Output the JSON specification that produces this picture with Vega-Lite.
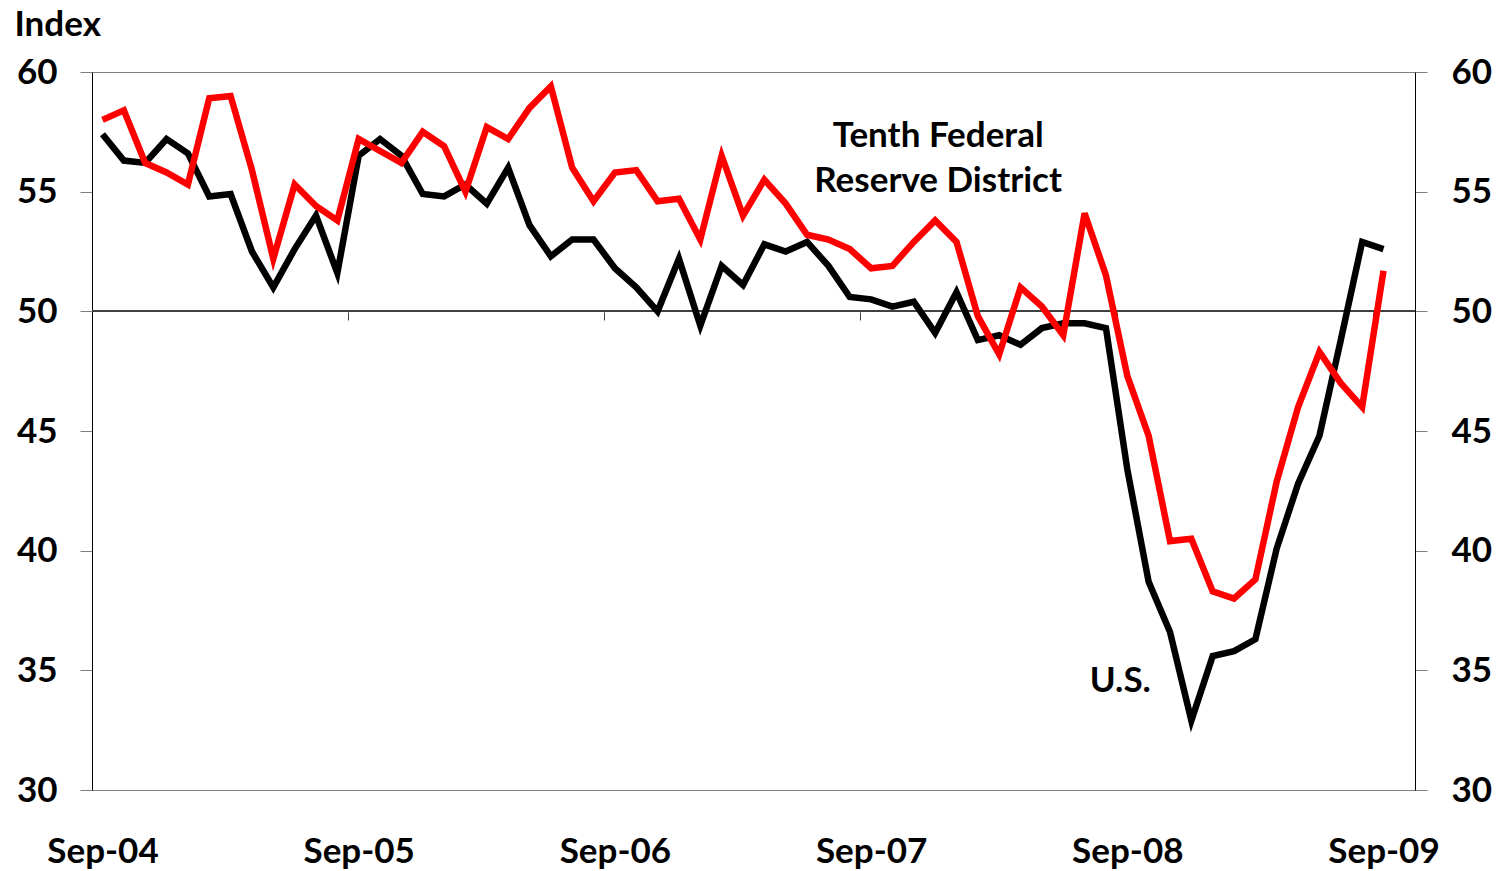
{
  "$schema": "https://vega.github.io/schema/vega-lite/v6.json",
  "width": 1323,
  "height": 718,
  "autosize": {"type": "none"},
  "padding": {"left": 92, "top": 72, "right": 82, "bottom": 81},
  "background": "white",
  "config": {
    "view": {"stroke": "#7f7f7f", "strokeWidth": 1},
    "font": "Lato",
    "text": {"font": "Lato"}
  },
  "datasets": {
    "index": [
      {"month": "Sep-04", "US": 57.4, "Tenth": 58.0},
      {"month": "Oct-04", "US": 56.3, "Tenth": 58.4},
      {"month": "Nov-04", "US": 56.2, "Tenth": 56.2},
      {"month": "Dec-04", "US": 57.2, "Tenth": 55.8},
      {"month": "Jan-05", "US": 56.6, "Tenth": 55.3},
      {"month": "Feb-05", "US": 54.8, "Tenth": 58.9},
      {"month": "Mar-05", "US": 54.9, "Tenth": 59.0},
      {"month": "Apr-05", "US": 52.5, "Tenth": 55.9},
      {"month": "May-05", "US": 51.0, "Tenth": 52.2},
      {"month": "Jun-05", "US": 52.6, "Tenth": 55.3},
      {"month": "Jul-05", "US": 54.0, "Tenth": 54.4},
      {"month": "Aug-05", "US": 51.6, "Tenth": 53.8},
      {"month": "Sep-05", "US": 56.5, "Tenth": 57.2},
      {"month": "Oct-05", "US": 57.2, "Tenth": 56.7},
      {"month": "Nov-05", "US": 56.5, "Tenth": 56.2},
      {"month": "Dec-05", "US": 54.9, "Tenth": 57.5},
      {"month": "Jan-06", "US": 54.8, "Tenth": 56.9},
      {"month": "Feb-06", "US": 55.3, "Tenth": 55.0},
      {"month": "Mar-06", "US": 54.5, "Tenth": 57.7},
      {"month": "Apr-06", "US": 56.0, "Tenth": 57.2},
      {"month": "May-06", "US": 53.6, "Tenth": 58.5},
      {"month": "Jun-06", "US": 52.3, "Tenth": 59.4},
      {"month": "Jul-06", "US": 53.0, "Tenth": 56.0},
      {"month": "Aug-06", "US": 53.0, "Tenth": 54.6},
      {"month": "Sep-06", "US": 51.8, "Tenth": 55.8},
      {"month": "Oct-06", "US": 51.0, "Tenth": 55.9},
      {"month": "Nov-06", "US": 50.0, "Tenth": 54.6},
      {"month": "Dec-06", "US": 52.2, "Tenth": 54.7},
      {"month": "Jan-07", "US": 49.4, "Tenth": 53.0},
      {"month": "Feb-07", "US": 51.9, "Tenth": 56.5},
      {"month": "Mar-07", "US": 51.1, "Tenth": 54.0},
      {"month": "Apr-07", "US": 52.8, "Tenth": 55.5},
      {"month": "May-07", "US": 52.5, "Tenth": 54.5},
      {"month": "Jun-07", "US": 52.9, "Tenth": 53.2},
      {"month": "Jul-07", "US": 51.9, "Tenth": 53.0},
      {"month": "Aug-07", "US": 50.6, "Tenth": 52.6},
      {"month": "Sep-07", "US": 50.5, "Tenth": 51.8},
      {"month": "Oct-07", "US": 50.2, "Tenth": 51.9},
      {"month": "Nov-07", "US": 50.4, "Tenth": 52.9},
      {"month": "Dec-07", "US": 49.1, "Tenth": 53.8},
      {"month": "Jan-08", "US": 50.8, "Tenth": 52.9},
      {"month": "Feb-08", "US": 48.8, "Tenth": 49.8},
      {"month": "Mar-08", "US": 49.0, "Tenth": 48.2},
      {"month": "Apr-08", "US": 48.6, "Tenth": 51.0},
      {"month": "May-08", "US": 49.3, "Tenth": 50.2},
      {"month": "Jun-08", "US": 49.5, "Tenth": 49.0},
      {"month": "Jul-08", "US": 49.5, "Tenth": 54.1},
      {"month": "Aug-08", "US": 49.3, "Tenth": 51.5},
      {"month": "Sep-08", "US": 43.4, "Tenth": 47.3},
      {"month": "Oct-08", "US": 38.7, "Tenth": 44.8},
      {"month": "Nov-08", "US": 36.6, "Tenth": 40.4},
      {"month": "Dec-08", "US": 32.9, "Tenth": 40.5},
      {"month": "Jan-09", "US": 35.6, "Tenth": 38.3},
      {"month": "Feb-09", "US": 35.8, "Tenth": 38.0},
      {"month": "Mar-09", "US": 36.3, "Tenth": 38.8},
      {"month": "Apr-09", "US": 40.1, "Tenth": 42.9},
      {"month": "May-09", "US": 42.8, "Tenth": 46.0},
      {"month": "Jun-09", "US": 44.8, "Tenth": 48.3},
      {"month": "Jul-09", "US": 48.8, "Tenth": 47.0},
      {"month": "Aug-09", "US": 52.9, "Tenth": 46.0},
      {"month": "Sep-09", "US": 52.6, "Tenth": 51.7}
    ],
    "district": [
      {"label": "Tenth Federal", "month": "Dec-07", "value": 56.87},
      {"label": "Reserve District", "month": "Dec-07", "value": 54.99}
    ],
    "us": [
      {"label": "U.S.", "month": "Sep-08", "value": 34.09}
    ]
  },
  "layer": [
    {
      "data": {"name": "index"},
      "mark": {"type": "rule", "color": "#404040", "strokeWidth": 1},
      "encoding": {
        "y": {"datum": 50, "type": "quantitative", "axis": null}
      }
    },
    {
      "data": {"name": "index"},
      "mark": {"type": "line", "color": "#000000", "strokeWidth": 6.5},
      "encoding": {
        "x": {
          "field": "month", "type": "ordinal",
          "scale": {"type": "point", "padding": 0, "range": [10.5, 1291.5],
            "domain": ["Sep-04","Oct-04","Nov-04","Dec-04","Jan-05","Feb-05","Mar-05","Apr-05","May-05","Jun-05","Jul-05","Aug-05","Sep-05","Oct-05","Nov-05","Dec-05","Jan-06","Feb-06","Mar-06","Apr-06","May-06","Jun-06","Jul-06","Aug-06","Sep-06","Oct-06","Nov-06","Dec-06","Jan-07","Feb-07","Mar-07","Apr-07","May-07","Jun-07","Jul-07","Aug-07","Sep-07","Oct-07","Nov-07","Dec-07","Jan-08","Feb-08","Mar-08","Apr-08","May-08","Jun-08","Jul-08","Aug-08","Sep-08","Oct-08","Nov-08","Dec-08","Jan-09","Feb-09","Mar-09","Apr-09","May-09","Jun-09","Jul-09","Aug-09","Sep-09"]},
          "axis": {
            "orient": "bottom", "title": null, "grid": false,
            "values": ["Sep-04","Sep-05","Sep-06","Sep-07","Sep-08","Sep-09"],
            "ticks": false, "domain": false, "labelAngle": 0,
            "labelFont": "Lato", "labelFontSize": 35, "labelFontWeight": "bold",
            "labelColor": "#000000", "labelBaseline": "alphabetic", "labelPadding": 72
          }
        },
        "y": {
          "field": "US", "type": "quantitative",
          "scale": {"domain": [30, 60], "nice": false, "zero": false},
          "axis": {
            "orient": "left", "grid": false,
            "values": [30, 35, 40, 45, 50, 55, 60],
            "tickSize": 12, "tickColor": "#7f7f7f", "domainColor": "#000000",
            "labelFont": "Lato", "labelFontSize": 35, "labelFontWeight": "bold",
            "labelColor": "#000000", "labelPadding": 23,
            "title": "Index", "titleAngle": 0, "titleAlign": "left",
            "titleBaseline": "alphabetic", "titleX": -78, "titleY": -37,
            "titleFont": "Lato", "titleFontSize": 35, "titleFontWeight": "bold",
            "titleColor": "#000000"
          }
        }
      }
    },
    {
      "data": {"name": "index"},
      "mark": {"type": "line", "color": "#ff0000", "strokeWidth": 6.5},
      "encoding": {
        "x": {
          "field": "month", "type": "ordinal",
          "axis": {
            "orient": "bottom", "offset": -478, "title": null, "grid": false,
            "values": ["Sep-05","Sep-06","Sep-07","Sep-08","Sep-09"],
            "labels": false, "ticks": true, "tickSize": 8, "tickOffset": -10.67,
            "tickColor": "#404040", "domain": false
          }
        },
        "y": {
          "field": "Tenth", "type": "quantitative",
          "axis": {
            "orient": "right", "grid": false, "title": null,
            "values": [30, 35, 40, 45, 50, 55, 60],
            "tickSize": 12, "tickColor": "#7f7f7f", "domainColor": "#000000",
            "labelFont": "Lato", "labelFontSize": 35, "labelFontWeight": "bold",
            "labelColor": "#000000", "labelPadding": 24
          }
        }
      }
    },
    {
      "data": {"name": "district"},
      "mark": {"type": "text", "font": "Lato", "fontSize": 35, "fontWeight": "bold", "color": "#000000", "align": "center", "baseline": "alphabetic", "dx": 3},
      "encoding": {
        "x": {"field": "month", "type": "ordinal", "axis": null},
        "y": {"field": "value", "type": "quantitative", "axis": null},
        "text": {"field": "label"}
      }
    },
    {
      "data": {"name": "us"},
      "mark": {"type": "text", "font": "Lato", "fontSize": 35, "fontWeight": "bold", "color": "#000000", "align": "center", "baseline": "alphabetic", "dx": -7},
      "encoding": {
        "x": {"field": "month", "type": "ordinal", "axis": null},
        "y": {"field": "value", "type": "quantitative", "axis": null},
        "text": {"field": "label"}
      }
    }
  ],
  "resolve": {"axis": {"x": "independent", "y": "independent"}}
}
